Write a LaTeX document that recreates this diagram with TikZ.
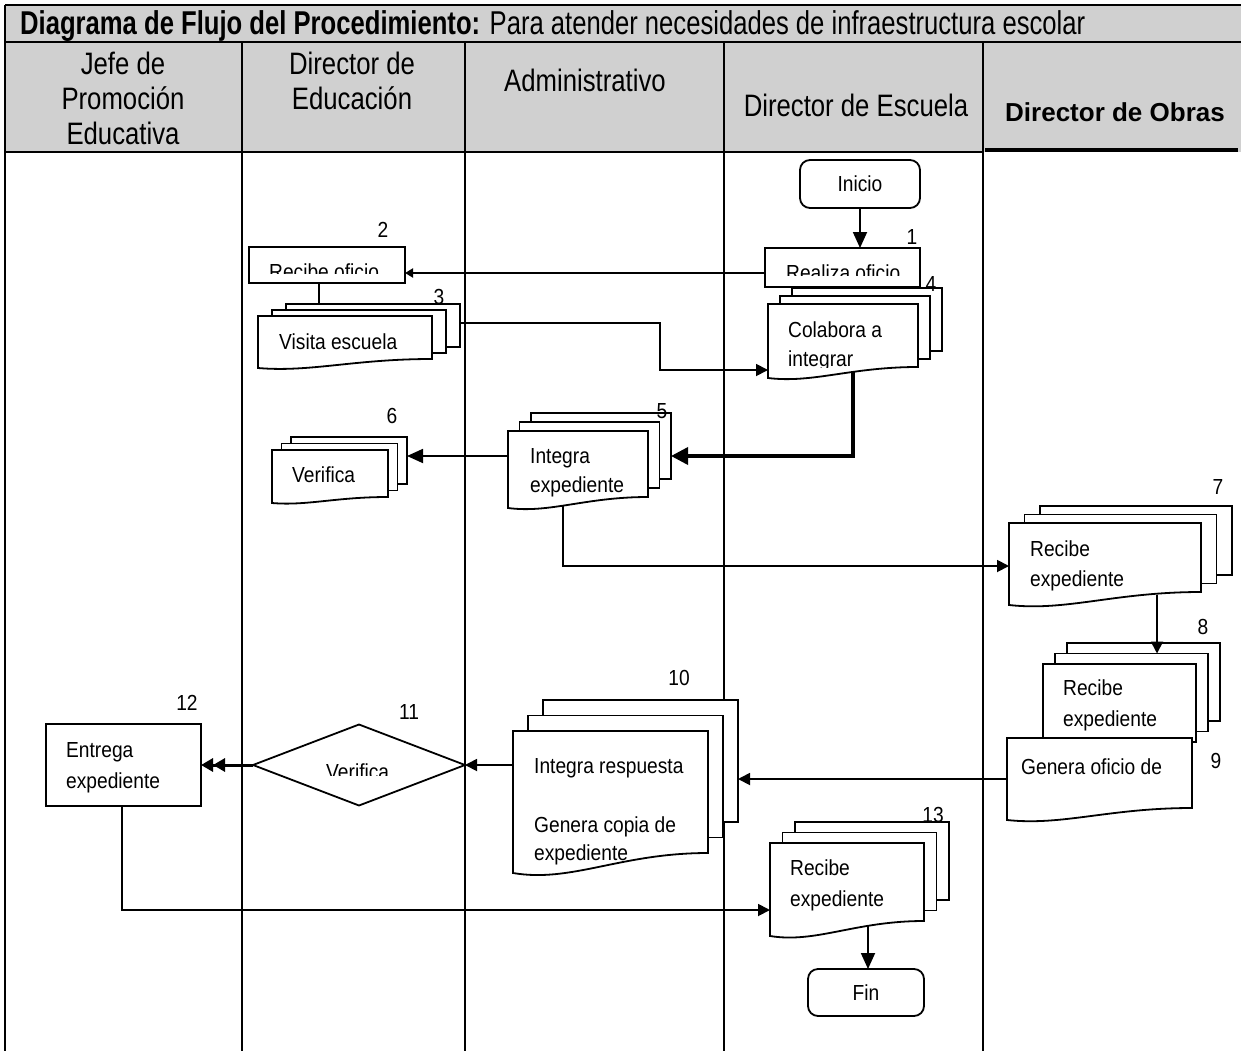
\documentclass[tikz,border=0pt]{standalone}
\usepackage{graphicx}
\usepackage{fontspec}
\setmainfont{Liberation Sans}
\newfontfamily\narrowfont[FakeStretch=0.83]{Liberation Sans}
\newfontfamily\bodyfont[FakeStretch=0.88]{Liberation Sans}
\usetikzlibrary{arrows.meta,shapes.geometric,calc}
\definecolor{hdrgray}{RGB}{208,208,208}

\tikzset{
  lane/.style={line width=1.8pt},
  conn/.style={line width=1.8pt},
  layer/.style={draw, line width=1.8pt, fill=white, rectangle, inner sep=0pt, outer sep=0pt},
  shapeline/.style={draw, line width=1.8pt, fill=white},
  boxnode/.style={draw, line width=1.8pt, fill=white, rectangle, inner sep=0pt, outer sep=0pt},
  term/.style={boxnode, rounded corners=10pt, font=\bodyfont\fontsize{21.8}{26}\selectfont},
  arr/.style={conn, -{Triangle[length=12pt,width=12pt]}},
  smallarr/.style={conn, -{Triangle[length=8pt,width=9pt]}},
  bigarr/.style={conn, -{Triangle[length=16pt,width=14pt]}},
  thickarr/.style={line width=3.5pt, -{Triangle[length=17pt,width=17pt]}},
  dblarr/.style={line width=3pt, -{Triangle[length=12pt,width=13pt]Triangle[length=12pt,width=13pt]}},
  txt/.style={font=\bodyfont\fontsize{21.8}{26}\selectfont, inner sep=0pt, anchor=base west},
  num/.style={font=\bodyfont\fontsize{21.8}{26}\selectfont, inner sep=0pt},
  hdr/.style={font=\narrowfont\fontsize{31}{35}\selectfont, align=center, inner sep=0pt},
}

% multi-document: name, x, y (front top-left), w, h (right side), dx, dy (up), wave
\newcommand\mdoc[8]{%
  \path (#2+2*#6,#3-2*#7) node[layer, minimum width=#4, minimum height=#5, anchor=north west] (#1b) {};
  \path (#2+#6,#3-#7) node[layer, minimum width=#4, minimum height=#5, anchor=north west] (#1m) {};
  \draw[shapeline] (#2,#3) -- (#2+#4,#3) -- (#2+#4,#3+#5)
     .. controls (#2+0.55*#4,#3+#5) and (#2+0.3*#4,#3+#5+1.5*#8) .. (#2,#3+#5+#8) -- cycle;
  \path (#2,#3) node[anchor=north west, inner sep=0pt, outer sep=0pt, minimum width=#4, minimum height=#5] (#1) {};
}
% single document
\newcommand\sdoc[6]{%
  \draw[shapeline] (#2,#3) -- (#2+#4,#3) -- (#2+#4,#3+#5)
     .. controls (#2+0.55*#4,#3+#5) and (#2+0.3*#4,#3+#5+1.5*#6) .. (#2,#3+#5+#6) -- cycle;
  \path (#2,#3) node[anchor=north west, inner sep=0pt, outer sep=0pt, minimum width=#4, minimum height=#5] (#1) {};
}

\begin{document}
\begin{tikzpicture}[x=1pt,y=-1pt]
\useasboundingbox (0,0) rectangle (1241,1051);

% header
\fill[hdrgray] (5,5) rectangle (1241,152);
\draw[lane] (5,5) -- (1241,5);
\draw[lane] (5,42) -- (1241,42);
\draw[lane] (5,5) -- (5,1051);
\draw[lane] (5,152) -- (983,152);
\draw[line width=3.5pt] (985,150) -- (1238,150);
\foreach \x in {242,465,724,983} \draw[lane] (\x,42) -- (\x,1051);

\node[anchor=base west, inner sep=0pt] (title) at (20,35)
  {\resizebox{1065pt}{\height}{\narrowfont\fontsize{33}{36}\selectfont\textbf{Diagrama de Flujo del Procedimiento:} Para atender necesidades de infraestructura escolar}};
\node[hdr, anchor=north] (h1) at (123,51.5) {Jefe de\\Promoción\\Educativa};
\node[hdr, anchor=north] (h2) at (352,51.5) {Director de\\Educación};
\node[hdr, anchor=base] (h3) at (585,92) {Administrativo};
\node[hdr, anchor=base] (h4) at (856,117) {Director de Escuela};
\node[font=\bfseries\fontsize{26}{30}\selectfont, anchor=base, inner sep=0pt] (h5) at (1115,122) {Director de Obras};

% shapes
\node[term, minimum width=120, minimum height=48] (n0) at (860,184) {Inicio};

\mdoc{s4}{768}{304}{150}{63}{12}{8}{11}
\node[boxnode, minimum width=155, minimum height=39] (n1) at (842.5,267.5) {};
\begin{scope}
  \clip (765,248) rectangle (920,275);
  \node[txt] (t1) at (786,280) {Realiza oficio};
\end{scope}

\node[boxnode, minimum width=156, minimum height=36] (n2) at (327,265) {};
\begin{scope}
  \clip (249,247) rectangle (405,273);
  \node[txt] (t2) at (269,279) {Recibe oficio};
\end{scope}

\mdoc{s3}{258}{316}{174}{43}{14}{6}{9}
\node[txt] (t3) at (279,349) {Visita escuela};

\node[txt] (t4a) at (788,337) {Colabora a};
\begin{scope}
  \clip (768,304) rectangle (918,367);
  \node[txt] (t4b) at (788,366) {integrar};
\end{scope}

\mdoc{s5}{508}{431}{140}{66}{11.5}{9}{11}
\node[txt] (t5a) at (530,463) {Integra};
\node[txt] (t5b) at (530,492) {expediente};

\mdoc{s6}{272}{450}{116}{47}{9.5}{6.5}{6}
\node[txt] (t6) at (292,482) {Verifica};

\mdoc{s7}{1009}{523}{192}{69}{15.5}{8.5}{13}
\node[txt] (t7a) at (1030,556) {Recibe};
\node[txt] (t7b) at (1030,586) {expediente};

\mdoc{s8}{1043}{664}{153}{78}{12}{10.5}{12}
\node[txt] (t8a) at (1063,695) {Recibe};
\node[txt] (t8b) at (1063,726) {expediente};

\sdoc{s9}{1007}{738}{185}{70}{12}
\node[txt] (t9) at (1021,774) {Genera oficio de};

\mdoc{s10}{513}{731}{195}{122}{15}{15.5}{20}
\node[txt] (t10a) at (534,773) {Integra respuesta};
\node[txt] (t10b) at (534,832) {Genera copia de};
\node[txt] (t10c) at (534,860) {expediente};

\node[diamond, draw, line width=1.8pt, fill=white, minimum width=212, minimum height=81, inner sep=0pt, outer sep=0pt] (n11) at (359,765) {};
\begin{scope}
  \clip (253,725) rectangle (465,775);
  \node[txt] (t11) at (326,779) {Verifica};
\end{scope}

\node[boxnode, minimum width=155, minimum height=82] (n12) at (123.5,765) {};
\node[txt] (t12a) at (66,757) {Entrega};
\node[txt] (t12b) at (66,788) {expediente};

\mdoc{s13}{770}{843}{154}{78}{12.5}{10.5}{15}
\node[txt] (t13a) at (790,875) {Recibe};
\node[txt] (t13b) at (790,906) {expediente};

\node[term, minimum width=116, minimum height=47] (n14) at (866,992.5) {Fin};

% numbers
\node[num] (k1) at (912,237) {1};
\node[num] (k2) at (383,230) {2};
\node[num] (k3) at (439,297) {3};
\node[num] (k4) at (931,284) {4};
\node[num] (k5) at (662,411) {5};
\node[num] (k6) at (392,416) {6};
\node[num] (k7) at (1218,487) {7};
\node[num] (k8) at (1203,627) {8};
\node[num] (k9) at (1216,761) {9};
\node[num] (k10) at (679,678) {10};
\node[num] (k11) at (409,712) {11};
\node[num] (k12) at (187,703) {12};
\node[num] (k13) at (933,815) {13};

% connectors
\draw[bigarr] (n0.south) -- (n0.south |- n1.north);
\draw[smallarr] (n1.west |- 0,273) -- (n2.east |- 0,273);
\draw[conn] (n2.south -| 319,0) -- (s3b.north -| 319,0);
\draw[arr] (s3b.east |- 0,323) -| (660,370) -- (s4.west |- 0,370);
\draw[thickarr] ($(s4.south -| 853,0)+(0,5)$) |- (s5b.east |- 0,456);
\draw[bigarr] (s5.west |- 0,456) -- (s6b.east |- 0,456);
\draw[arr] ($(s5.south -| 563,0)+(0,9)$) |- (s7.west |- 0,566);
\draw[arr] ($(s7.south -| 1157,0)+(0,3)$) -- (s8m.north -| 1157,0);
\draw[arr] (s9.west |- 0,779) -- (s10b.east |- 0,779);
\draw[arr] (s10.west |- n11.east) -- (n11.east);
\draw[dblarr] (n11.west) -- (n12.east |- n11.west);
\draw[arr] (n12.south -| 122,0) |- (s13.west |- 0,910);
\draw[bigarr] ($(s13.south -| 868,0)+(0,5)$) -- (n14.north -| 868,0);
\end{tikzpicture}
\end{document}
